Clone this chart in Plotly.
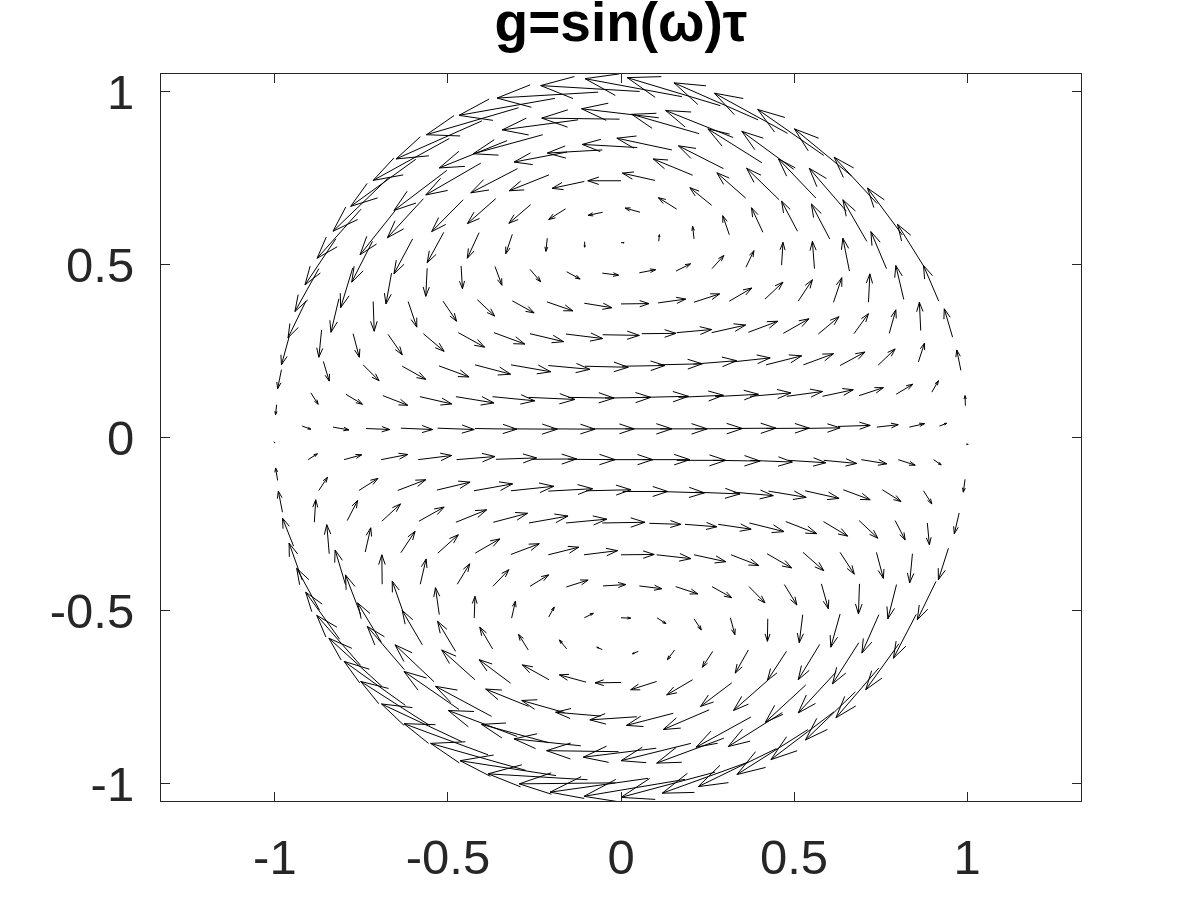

import plotly.graph_objects as go

TITLE = "g=sin(ω)τ"
tick_vals = [-1, -0.5, 0, 0.5, 1]
tick_text = ["-1", "-0.5", "0", "0.5", "1"]

# each row: arrow tails (x, y) and arrow tips (x, y), in axis units
row_a_x0 = [-0.921, -0.832, -0.737, -0.636, -0.530, -0.422, -0.315, -0.202, -0.090, 0.012, 0.113, 0.214, 0.315, 0.419, 0.523, 0.627, 0.739, 0.833, 0.920]
row_a_y0 = [0.033, 0.030, 0.026, 0.027, 0.027, 0.026, 0.025, 0.025, 0.025, 0.025, 0.025, 0.025, 0.026, 0.026, 0.026, 0.032, 0.030, 0.030, 0.033]
row_a_x1 = [-0.896, -0.786, -0.668, -0.544, -0.424, -0.301, -0.184, -0.075, 0.038, 0.147, 0.249, 0.351, 0.448, 0.544, 0.633, 0.720, 0.801, 0.877, 0.941]
row_a_y1 = [0.024, 0.022, 0.023, 0.023, 0.023, 0.024, 0.024, 0.024, 0.025, 0.025, 0.025, 0.026, 0.027, 0.027, 0.028, 0.035, 0.037, 0.040, 0.041]

row_b_x0 = [-0.995, -0.896, -0.795, -0.688, -0.581, -0.477, -0.371, -0.267, -0.153, -0.046, 0.060, 0.166, 0.272, 0.373, 0.479, 0.582, 0.688, 0.795, 0.898, 0.995]
row_b_y0 = [0.095, 0.129, 0.125, 0.121, 0.118, 0.118, 0.118, 0.116, 0.116, 0.114, 0.116, 0.116, 0.118, 0.119, 0.119, 0.119, 0.121, 0.125, 0.131, 0.092]
row_b_x1 = [-0.998, -0.875, -0.747, -0.616, -0.489, -0.367, -0.249, -0.133, -0.020, 0.086, 0.195, 0.296, 0.397, 0.491, 0.582, 0.671, 0.758, 0.843, 0.917, 0.994]
row_b_y1 = [0.066, 0.096, 0.096, 0.093, 0.097, 0.100, 0.106, 0.110, 0.114, 0.116, 0.119, 0.122, 0.125, 0.129, 0.133, 0.138, 0.144, 0.154, 0.164, 0.121]

row_c_x0 = [-1.003, -0.904, -0.800, -0.693, -0.586, -0.475, -0.361, -0.258, -0.153, -0.041, 0.063, 0.161, 0.266, 0.373, 0.483, 0.586, 0.694, 0.801, 0.903, 0.997]
row_c_y0 = [-0.012, -0.064, -0.064, -0.064, -0.064, -0.064, -0.063, -0.063, -0.063, -0.064, -0.064, -0.066, -0.066, -0.066, -0.066, -0.066, -0.064, -0.064, -0.064, -0.019]
row_c_x1 = [-1.000, -0.877, -0.749, -0.616, -0.489, -0.364, -0.244, -0.128, -0.017, 0.092, 0.199, 0.303, 0.402, 0.495, 0.592, 0.681, 0.768, 0.850, 0.925, 1.003]
row_c_y1 = [-0.016, -0.047, -0.050, -0.049, -0.052, -0.055, -0.059, -0.062, -0.064, -0.064, -0.064, -0.066, -0.068, -0.071, -0.073, -0.075, -0.076, -0.080, -0.079, -0.020]

row_d_x0 = [-0.981, -0.860, -0.745, -0.632, -0.526, -0.422, -0.318, -0.210, -0.104, 0.003, 0.108, 0.209, 0.318, 0.419, 0.527, 0.633, 0.743, 0.859, 0.982]
row_d_y0 = [0.196, 0.220, 0.210, 0.206, 0.207, 0.210, 0.210, 0.208, 0.206, 0.206, 0.210, 0.212, 0.218, 0.210, 0.210, 0.208, 0.209, 0.218, 0.194]
row_d_x1 = [-0.992, -0.843, -0.699, -0.564, -0.439, -0.319, -0.203, -0.090, 0.021, 0.127, 0.235, 0.334, 0.431, 0.522, 0.614, 0.705, 0.792, 0.877, 0.970]
row_d_y1 = [0.141, 0.163, 0.164, 0.168, 0.175, 0.183, 0.190, 0.197, 0.203, 0.208, 0.213, 0.222, 0.230, 0.236, 0.242, 0.247, 0.256, 0.273, 0.253]

row_e_x0 = [-0.959, -0.865, -0.774, -0.673, -0.571, -0.470, -0.367, -0.263, -0.159, -0.053, 0.060, 0.161, 0.262, 0.368, 0.469, 0.570, 0.673, 0.775, 0.866, 0.958]
row_e_y0 = [0.290, 0.311, 0.300, 0.298, 0.300, 0.303, 0.303, 0.300, 0.299, 0.297, 0.300, 0.303, 0.303, 0.304, 0.301, 0.299, 0.300, 0.301, 0.309, 0.290]
row_e_x1 = [-0.981, -0.873, -0.756, -0.632, -0.511, -0.394, -0.278, -0.166, -0.053, 0.053, 0.159, 0.262, 0.360, 0.453, 0.543, 0.630, 0.715, 0.794, 0.862, 0.934]
row_e_y1 = [0.210, 0.232, 0.232, 0.239, 0.249, 0.261, 0.270, 0.277, 0.286, 0.295, 0.301, 0.312, 0.325, 0.336, 0.343, 0.349, 0.358, 0.369, 0.391, 0.372]

row_f_x0 = [-0.910, -0.815, -0.716, -0.615, -0.514, -0.415, -0.314, -0.214, -0.106, 0.000, 0.107, 0.211, 0.313, 0.416, 0.512, 0.614, 0.715, 0.817, 0.918]
row_f_y0 = [0.395, 0.401, 0.393, 0.393, 0.394, 0.398, 0.395, 0.392, 0.388, 0.386, 0.389, 0.391, 0.394, 0.400, 0.394, 0.391, 0.391, 0.399, 0.394]
row_f_x1 = [-0.962, -0.838, -0.713, -0.590, -0.475, -0.365, -0.251, -0.139, -0.026, 0.081, 0.187, 0.285, 0.378, 0.468, 0.553, 0.638, 0.719, 0.794, 0.874]
row_f_y1 = [0.288, 0.304, 0.307, 0.319, 0.336, 0.351, 0.360, 0.366, 0.375, 0.387, 0.400, 0.415, 0.432, 0.449, 0.456, 0.462, 0.473, 0.497, 0.497]

row_g_x0 = [-0.873, -0.775, -0.663, -0.560, -0.462, -0.364, -0.263, -0.157, -0.054, 0.053, 0.159, 0.263, 0.361, 0.464, 0.559, 0.660, 0.767, 0.874]
row_g_y0 = [0.488, 0.490, 0.475, 0.489, 0.496, 0.494, 0.486, 0.479, 0.475, 0.476, 0.481, 0.488, 0.492, 0.498, 0.488, 0.481, 0.488, 0.496]
row_g_x1 = [-0.942, -0.810, -0.679, -0.564, -0.458, -0.344, -0.232, -0.118, -0.007, 0.100, 0.201, 0.297, 0.384, 0.468, 0.553, 0.641, 0.722, 0.799]
row_g_y1 = [0.364, 0.375, 0.386, 0.408, 0.430, 0.440, 0.450, 0.458, 0.469, 0.485, 0.502, 0.526, 0.540, 0.564, 0.567, 0.576, 0.595, 0.616]

row_h_x0 = [-0.824, -0.718, -0.602, -0.512, -0.410, -0.314, -0.213, -0.105, 0.000, 0.109, 0.211, 0.313, 0.410, 0.510, 0.603, 0.710, 0.813]
row_h_y0 = [0.574, 0.567, 0.574, 0.593, 0.592, 0.587, 0.576, 0.566, 0.563, 0.567, 0.574, 0.586, 0.593, 0.596, 0.574, 0.567, 0.585]
row_h_x1 = [-0.913, -0.778, -0.656, -0.560, -0.444, -0.333, -0.217, -0.105, 0.009, 0.111, 0.207, 0.294, 0.377, 0.464, 0.550, 0.641, 0.712]
row_h_y1 = [0.441, 0.449, 0.473, 0.505, 0.518, 0.531, 0.538, 0.550, 0.563, 0.586, 0.610, 0.641, 0.664, 0.683, 0.675, 0.687, 0.721]

row_i_x0 = [-0.751, -0.653, -0.571, -0.456, -0.362, -0.261, -0.160, -0.053, 0.055, 0.161, 0.262, 0.360, 0.457, 0.563, 0.651, 0.740]
row_i_y0 = [0.660, 0.655, 0.690, 0.687, 0.690, 0.673, 0.661, 0.651, 0.651, 0.660, 0.671, 0.692, 0.687, 0.692, 0.654, 0.676]
row_i_x1 = [-0.878, -0.754, -0.675, -0.547, -0.444, -0.324, -0.209, -0.095, 0.012, 0.108, 0.199, 0.277, 0.363, 0.455, 0.544, 0.616]
row_i_y1 = [0.518, 0.528, 0.577, 0.595, 0.618, 0.619, 0.630, 0.642, 0.663, 0.693, 0.722, 0.765, 0.778, 0.805, 0.778, 0.810]

row_j_x0 = [-0.670, -0.503, -0.405, -0.299, -0.208, -0.106, 0.000, 0.098, 0.207, 0.296, 0.407, 0.499]
row_j_y0 = [0.752, 0.772, 0.793, 0.777, 0.759, 0.740, 0.742, 0.743, 0.758, 0.777, 0.794, 0.775]
row_j_x1 = [-0.832, -0.656, -0.564, -0.434, -0.323, -0.199, -0.096, 0.004, 0.093, 0.166, 0.251, 0.349]
row_j_y1 = [0.596, 0.656, 0.701, 0.707, 0.713, 0.720, 0.742, 0.764, 0.805, 0.843, 0.892, 0.885]

top_outer_x0 = [-0.593, -0.496, -0.402, -0.296, -0.191, -0.066, 0.054, 0.176, 0.287, 0.396, 0.481, 0.586, 0.666]
top_outer_y0 = [0.804, 0.864, 0.915, 0.953, 0.980, 0.998, 1.000, 0.985, 0.959, 0.918, 0.879, 0.815, 0.756]
top_outer_x1 = [-0.781, -0.716, -0.650, -0.562, -0.468, -0.358, -0.232, -0.104, 0.018, 0.153, 0.270, 0.395, 0.501]
top_outer_y1 = [0.668, 0.743, 0.805, 0.875, 0.931, 0.981, 1.017, 1.037, 1.040, 1.025, 0.995, 0.948, 0.892]

top_second_x0 = [-0.329, -0.226, -0.124, -0.004, 0.109, 0.226, 0.324]
top_second_y0 = [0.858, 0.875, 0.918, 0.920, 0.924, 0.878, 0.867]
top_second_x1 = [-0.525, -0.427, -0.343, -0.229, -0.114, 0.031, 0.129]
top_second_y1 = [0.779, 0.820, 0.889, 0.923, 0.950, 0.934, 0.945]

top_third_x0 = [-0.156, -0.054, 0.047, 0.147]
top_third_y0 = [0.825, 0.831, 0.838, 0.831]
top_third_x1 = [-0.309, -0.213, -0.112, -0.012]
top_third_y1 = [0.796, 0.822, 0.847, 0.865]

row_k_x0 = [-0.992, -0.873, -0.757, -0.645, -0.532, -0.425, -0.318, -0.210, -0.101, 0.005, 0.108, 0.214, 0.325, 0.426, 0.532, 0.642, 0.755, 0.874, 0.994]
row_k_y0 = [-0.124, -0.153, -0.153, -0.153, -0.152, -0.154, -0.154, -0.155, -0.154, -0.156, -0.156, -0.158, -0.158, -0.155, -0.154, -0.151, -0.151, -0.154, -0.121]
row_k_x1 = [-0.998, -0.848, -0.702, -0.564, -0.436, -0.313, -0.194, -0.082, 0.029, 0.135, 0.241, 0.344, 0.440, 0.535, 0.630, 0.720, 0.809, 0.898, 0.989]
row_k_y1 = [-0.088, -0.115, -0.118, -0.122, -0.129, -0.134, -0.141, -0.148, -0.151, -0.156, -0.160, -0.163, -0.168, -0.173, -0.176, -0.180, -0.185, -0.192, -0.158]

row_l_x0 = [-0.978, -0.886, -0.791, -0.691, -0.584, -0.477, -0.369, -0.266, -0.159, -0.054, 0.082, 0.185, 0.281, 0.371, 0.476, 0.585, 0.688, 0.792, 0.885, 0.977]
row_l_y0 = [-0.216, -0.245, -0.240, -0.242, -0.242, -0.245, -0.245, -0.247, -0.247, -0.247, -0.248, -0.251, -0.251, -0.247, -0.243, -0.243, -0.240, -0.240, -0.247, -0.218]
row_l_x1 = [-0.990, -0.882, -0.761, -0.637, -0.511, -0.388, -0.270, -0.153, -0.041, 0.069, 0.173, 0.277, 0.376, 0.471, 0.566, 0.655, 0.742, 0.821, 0.891, 0.963]
row_l_y1 = [-0.155, -0.180, -0.182, -0.192, -0.201, -0.209, -0.219, -0.227, -0.236, -0.245, -0.251, -0.258, -0.265, -0.272, -0.278, -0.285, -0.291, -0.296, -0.310, -0.278]

row_m_x0 = [-0.946, -0.843, -0.739, -0.636, -0.529, -0.421, -0.318, -0.210, -0.107, 0.000, 0.103, 0.211, 0.318, 0.422, 0.526, 0.633, 0.738, 0.842, 0.946]
row_m_y0 = [-0.314, -0.336, -0.331, -0.333, -0.334, -0.334, -0.338, -0.339, -0.339, -0.339, -0.339, -0.339, -0.339, -0.336, -0.332, -0.332, -0.332, -0.336, -0.320]
row_m_x1 = [-0.978, -0.850, -0.723, -0.595, -0.470, -0.350, -0.236, -0.122, -0.010, 0.096, 0.202, 0.303, 0.398, 0.493, 0.586, 0.674, 0.758, 0.834, 0.917]
row_m_y1 = [-0.233, -0.252, -0.261, -0.271, -0.281, -0.293, -0.307, -0.317, -0.327, -0.338, -0.350, -0.359, -0.370, -0.377, -0.385, -0.395, -0.407, -0.420, -0.411]

row_n_x0 = [-0.921, -0.796, -0.690, -0.580, -0.473, -0.370, -0.263, -0.158, -0.052, 0.053, 0.158, 0.263, 0.370, 0.472, 0.579, 0.689, 0.796, 0.910]
row_n_y0 = [-0.412, -0.425, -0.424, -0.424, -0.424, -0.430, -0.430, -0.432, -0.429, -0.429, -0.431, -0.431, -0.431, -0.425, -0.423, -0.423, -0.425, -0.416]
row_n_x1 = [-0.959, -0.826, -0.691, -0.563, -0.437, -0.324, -0.209, -0.095, 0.014, 0.118, 0.222, 0.320, 0.416, 0.508, 0.599, 0.686, 0.771, 0.856]
row_n_y1 = [-0.305, -0.325, -0.339, -0.351, -0.365, -0.382, -0.397, -0.412, -0.425, -0.437, -0.452, -0.463, -0.478, -0.484, -0.495, -0.510, -0.524, -0.527]

row_o_x0 = [-0.871, -0.752, -0.630, -0.525, -0.424, -0.316, -0.209, -0.106, 0.000, 0.104, 0.211, 0.316, 0.424, 0.525, 0.633, 0.745, 0.853]
row_o_y0 = [-0.499, -0.512, -0.503, -0.512, -0.522, -0.522, -0.519, -0.521, -0.521, -0.521, -0.524, -0.521, -0.524, -0.512, -0.510, -0.512, -0.511]
row_o_x1 = [-0.937, -0.796, -0.661, -0.536, -0.422, -0.305, -0.193, -0.080, 0.028, 0.130, 0.232, 0.329, 0.423, 0.515, 0.606, 0.696, 0.787]
row_o_y1 = [-0.378, -0.397, -0.415, -0.434, -0.459, -0.473, -0.490, -0.508, -0.522, -0.538, -0.556, -0.570, -0.589, -0.593, -0.606, -0.623, -0.638]

row_p_x0 = [-0.813, -0.692, -0.574, -0.478, -0.371, -0.268, -0.157, -0.054, 0.050, 0.155, 0.265, 0.368, 0.478, 0.574, 0.687, 0.803]
row_p_y0 = [-0.583, -0.592, -0.599, -0.618, -0.611, -0.614, -0.611, -0.613, -0.618, -0.614, -0.618, -0.614, -0.618, -0.598, -0.593, -0.596]
row_p_x1 = [-0.911, -0.761, -0.632, -0.530, -0.408, -0.296, -0.178, -0.070, 0.033, 0.134, 0.235, 0.330, 0.423, 0.512, 0.611, 0.707]
row_p_y1 = [-0.447, -0.478, -0.500, -0.531, -0.548, -0.569, -0.585, -0.606, -0.625, -0.642, -0.664, -0.681, -0.702, -0.700, -0.712, -0.729]

row_q_x0 = [-0.752, -0.626, -0.540, -0.422, -0.319, -0.208, -0.101, 0.000, 0.103, 0.207, 0.320, 0.426, 0.534, 0.622, 0.745]
row_q_y0 = [-0.659, -0.671, -0.706, -0.700, -0.710, -0.700, -0.707, -0.708, -0.705, -0.700, -0.709, -0.700, -0.715, -0.677, -0.666]
row_q_x1 = [-0.879, -0.733, -0.653, -0.518, -0.410, -0.285, -0.178, -0.075, 0.028, 0.132, 0.230, 0.325, 0.417, 0.512, 0.621]
row_q_y1 = [-0.514, -0.546, -0.599, -0.614, -0.642, -0.657, -0.686, -0.709, -0.729, -0.744, -0.777, -0.789, -0.823, -0.796, -0.810]

row_r_x0 = [-0.691, -0.468, -0.374, -0.267, -0.163, -0.059, 0.046, 0.151, 0.255, 0.375, 0.466, 0.615, 0.677]
row_r_y0 = [-0.719, -0.786, -0.806, -0.777, -0.795, -0.805, -0.807, -0.797, -0.787, -0.808, -0.795, -0.793, -0.735]
row_r_x1 = [-0.844, -0.627, -0.536, -0.391, -0.287, -0.189, -0.090, 0.016, 0.122, 0.217, 0.310, 0.433, 0.533]
row_r_y1 = [-0.580, -0.676, -0.719, -0.727, -0.760, -0.794, -0.816, -0.832, -0.844, -0.895, -0.893, -0.931, -0.874]

bottom_outer_x0 = [-0.623, -0.553, -0.460, -0.384, -0.275, -0.188, -0.097, -0.016, 0.078, 0.185, 0.272, 0.368, 0.449, 0.540]
bottom_outer_y0 = [-0.774, -0.832, -0.879, -0.917, -0.962, -0.977, -0.989, -0.998, -0.985, -0.988, -0.967, -0.938, -0.899, -0.844]
bottom_outer_x1 = [-0.800, -0.752, -0.692, -0.627, -0.550, -0.465, -0.384, -0.294, -0.205, -0.107, 0.000, 0.119, 0.223, 0.335]
bottom_outer_y1 = [-0.647, -0.705, -0.770, -0.827, -0.884, -0.934, -0.972, -1.001, -1.025, -1.037, -1.040, -1.028, -1.009, -0.974]

bottom_second_x0 = [-0.300, -0.209, -0.116, -0.007, 0.102, 0.202, 0.297]
bottom_second_y0 = [-0.864, -0.882, -0.891, -0.908, -0.898, -0.884, -0.869]
bottom_second_x1 = [-0.499, -0.403, -0.309, -0.215, -0.109, 0.000, 0.103]
bottom_second_y1 = [-0.789, -0.829, -0.871, -0.905, -0.924, -0.934, -0.941]

rows = [
    (row_a_x0, row_a_y0, row_a_x1, row_a_y1),
    (row_b_x0, row_b_y0, row_b_x1, row_b_y1),
    (row_c_x0, row_c_y0, row_c_x1, row_c_y1),
    (row_d_x0, row_d_y0, row_d_x1, row_d_y1),
    (row_e_x0, row_e_y0, row_e_x1, row_e_y1),
    (row_f_x0, row_f_y0, row_f_x1, row_f_y1),
    (row_g_x0, row_g_y0, row_g_x1, row_g_y1),
    (row_h_x0, row_h_y0, row_h_x1, row_h_y1),
    (row_i_x0, row_i_y0, row_i_x1, row_i_y1),
    (row_j_x0, row_j_y0, row_j_x1, row_j_y1),
    (top_outer_x0, top_outer_y0, top_outer_x1, top_outer_y1),
    (top_second_x0, top_second_y0, top_second_x1, top_second_y1),
    (top_third_x0, top_third_y0, top_third_x1, top_third_y1),
    (row_k_x0, row_k_y0, row_k_x1, row_k_y1),
    (row_l_x0, row_l_y0, row_l_x1, row_l_y1),
    (row_m_x0, row_m_y0, row_m_x1, row_m_y1),
    (row_n_x0, row_n_y0, row_n_x1, row_n_y1),
    (row_o_x0, row_o_y0, row_o_x1, row_o_y1),
    (row_p_x0, row_p_y0, row_p_x1, row_p_y1),
    (row_q_x0, row_q_y0, row_q_x1, row_q_y1),
    (row_r_x0, row_r_y0, row_r_x1, row_r_y1),
    (bottom_outer_x0, bottom_outer_y0, bottom_outer_x1, bottom_outer_y1),
    (bottom_second_x0, bottom_second_y0, bottom_second_x1, bottom_second_y1),
]

# open arrowhead: barbs a third of the way back, a ninth of the length to each side
HEAD_BACK = 1 / 3
HEAD_SIDE = 1 / 9

line_x = []
line_y = []
for xs0, ys0, xs1, ys1 in rows:
    for x0, y0, x1, y1 in zip(xs0, ys0, xs1, ys1):
        u = x1 - x0
        v = y1 - y0
        bx = x1 - HEAD_BACK * u
        by = y1 - HEAD_BACK * v
        line_x += [x0, x1, None, bx + HEAD_SIDE * v, x1, bx - HEAD_SIDE * v, None]
        line_y += [y0, y1, None, by - HEAD_SIDE * u, y1, by + HEAD_SIDE * u, None]

fig = go.Figure(go.Scatter(x=line_x, y=line_y, mode="lines",
                           line=dict(color="black", width=1),
                           hoverinfo="skip", showlegend=False))

axis_style = dict(
    tickmode="array", tickvals=tick_vals, ticktext=tick_text,
    ticks="inside", ticklen=9, tickwidth=1, tickcolor="#262626",
    showline=True, linecolor="#262626", linewidth=1, mirror="ticks",
    showgrid=False, zeroline=False,
    tickfont=dict(family="Liberation Sans", size=49, color="#262626"),
)

fig.update_layout(
    width=1200, height=900, autosize=False,
    margin=dict(l=161, r=119, t=74, b=99),
    paper_bgcolor="white", plot_bgcolor="white",
    title=dict(text=TITLE, x=621 / 1200, xanchor="center", y=1 - 22 / 900, yanchor="middle",
               font=dict(family="Liberation Sans", size=55, color="black", weight="bold")),
    xaxis=dict(range=[-1.329, 1.329], ticklabelstandoff=13, **axis_style),
    yaxis=dict(range=[-1.0505, 1.0505], ticklabelstandoff=16, **axis_style),
)

fig.write_html("out.html", config={"displayModeBar": False},
               post_script="document.body.style.margin='0';")
